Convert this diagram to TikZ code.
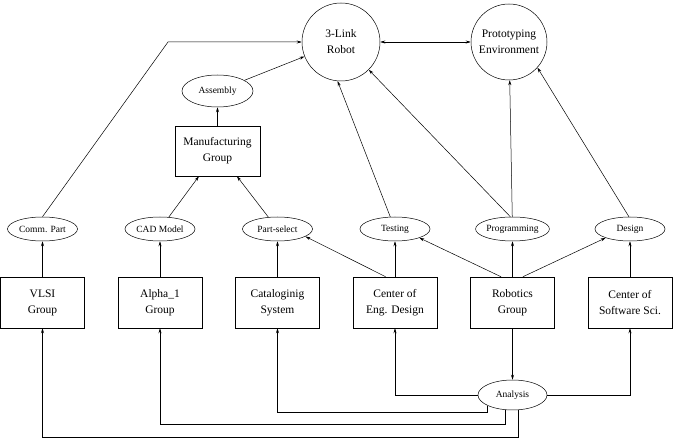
\documentclass[tikz,border=0pt]{standalone}
\usepackage{fontspec}
\setmainfont{Liberation Serif}
\usepackage{tikz}
\usetikzlibrary{shapes.geometric,arrows.meta}

\begin{document}
\begin{tikzpicture}[x=1pt,y=-1pt,line width=0.5pt,>={Stealth[length=5pt,width=3pt]}]
\tikzstyle{box}=[draw,rectangle,align=center,inner sep=2pt,minimum width=84pt,minimum height=51pt,font=\fontsize{11.5}{16}\selectfont]
\tikzstyle{oval}=[draw,ellipse,inner sep=0pt,minimum width=70pt,minimum height=24pt,font=\fontsize{9.5}{11}\selectfont]
\tikzstyle{hub}=[draw,circle,align=center,inner sep=0pt,font=\fontsize{11.5}{16}\selectfont]
\useasboundingbox (0,0) rectangle (673,438);

% top level
\node[hub,minimum size=78pt] (robot) at (341,42) {3-Link\\Robot};
\node[hub,minimum size=76pt] (proto) at (509,42) {Prototyping\\Environment};
\node[oval,minimum width=71pt,minimum height=32pt] (asm) at (217.5,91) {Assembly};
\node[box,minimum width=85pt,minimum height=50pt] (mfg) at (217.5,151) {Manufacturing\\Group};

% activities
\node[oval] (comm) at (42.5,229) {Comm. Part};
\node[oval] (cad) at (160,229) {CAD Model};
\node[oval] (psel) at (277.5,229) {Part-select};
\node[oval] (test) at (395,229) {Testing};
\node[oval] (prog) at (512.5,229) {Programming};
\node[oval] (dsgn) at (630,229) {Design};

% groups
\node[box] (vlsi) at (42.5,302.5) {VLSI\\Group};
\node[box] (alpha) at (160,302.5) {Alpha\_1\\Group};
\node[box] (catl) at (277.5,302.5) {Cataloginig\\System};
\node[box] (ceng) at (395,302.5) {Center of\\Eng. Design};
\node[box] (robg) at (512.5,302.5) {Robotics\\Group};
\node[box] (csoft) at (630,302.5) {Center of\\Software Sci.};

\node[oval,minimum width=69pt,minimum height=30pt] (anly) at (512.5,395) {Analysis};

\draw[<->] (robot) -- (proto);
\draw[->] (comm.north) -- (168,42) -- (robot.west);
\draw[->] (asm) -- (robot);
\draw[->] (mfg) -- (asm);
\draw[->] (cad) -- (mfg);
\draw[->] (psel) -- (mfg);
\draw[->] (test) -- (robot.265);
\draw[->] (prog.100) -- (robot.315);
\draw[->] (prog) -- (proto);
\draw[->] (dsgn.95) -- (proto.318);

\draw[->] (vlsi) -- (comm);
\draw[->] (alpha) -- (cad);
\draw[->] (catl) -- (psel);
\draw[->] (ceng) -- (test);
\draw[->] (ceng.110) -- (psel.345);
\draw[->] (robg.114) -- (test.340);
\draw[->] (robg) -- (prog);
\draw[->] (robg.68) -- (dsgn.200);
\draw[->] (csoft) -- (dsgn);

\draw[->] (robg) -- (anly);
\draw[->] (anly.west) -| (ceng.south);
\draw[->] (anly.east) -| (csoft.south);
\draw[->] (anly.203) -- (anly.203 |- 0,412) -| (catl.south);
\draw[->] (anly.243) -- (anly.243 |- 0,424) -| (alpha.south);
\draw[->] (anly.290) -- (anly.290 |- 0,437) -| (vlsi.south);
\end{tikzpicture}
\end{document}
